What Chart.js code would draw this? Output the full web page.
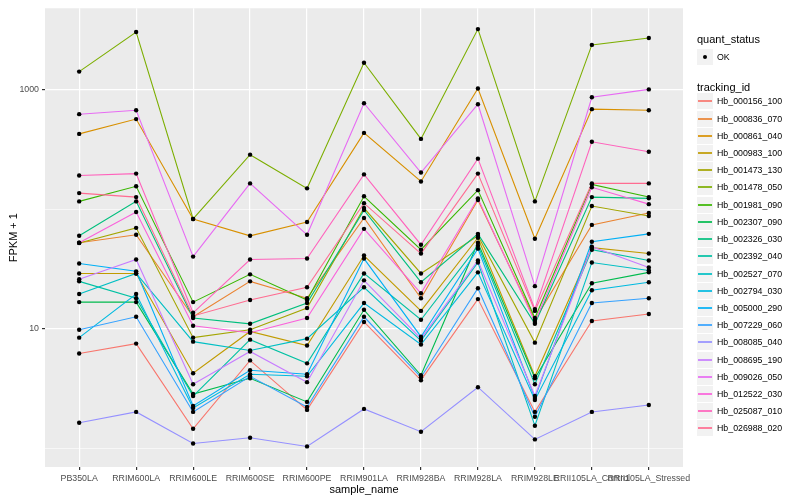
<!DOCTYPE html>
<html><head><meta charset="utf-8">
<script src="https://cdn.jsdelivr.net/npm/chart.js@4/dist/chart.umd.min.js"></script>
<style>
html,body{margin:0;padding:0;background:#fff;}
#wrap{position:relative;width:800px;height:500px;overflow:hidden;}
canvas{position:absolute;left:0;top:0;}
.lg{position:absolute;font-family:"Liberation Sans",Arial,sans-serif;color:#000;white-space:nowrap;}
</style></head><body>
<div id="wrap"><canvas id="c" width="800" height="500" style="width:800px;height:500px"></canvas><div id="legend"></div></div>
<script>
const categories = ["PB350LA","RRIM600LA","RRIM600LE","RRIM600SE","RRIM600PE","RRIM901LA","RRIM928BA","RRIM928LA","RRIM928LE","RRII105LA_Control","RRII105LA_Stressed"];
const trackingIds = ["Hb_000156_100","Hb_000836_070","Hb_000861_040","Hb_000983_100","Hb_001473_130","Hb_001478_050","Hb_001981_090","Hb_002307_090","Hb_002326_030","Hb_002392_040","Hb_002527_070","Hb_002794_030","Hb_005000_290","Hb_007229_060","Hb_008085_040","Hb_008695_190","Hb_009026_050","Hb_012522_030","Hb_025087_010","Hb_026988_020"];
const seriesColors = ["#F8766D","#EA8331","#D89000","#C09B00","#A3A500","#7CAE00","#39B600","#00BB4E","#00BF7D","#00C1A3","#00BFC4","#00BAE0","#00B0F6","#35A2FF","#9590FF","#C77CFF","#E76BF3","#FA62DB","#FF62BC","#FF6C91"];
const yTickLabels = [10, 1000];
const quantStatus = ["OK"];

const Hb_000156_100 = [6.21, 7.52, 1.46, 5.44, 2.10, 11.4, 3.72, 17.7, 2.02, 11.6, 13.3];
const Hb_000836_070 = [52.4, 61.0, 12.6, 24.9, 18.0, 84.3, 18.0, 119, 11.9, 73.8, 92.7];
const Hb_000861_040 = [425, 565, 82.7, 59.8, 78.1, 433, 170, 1019, 56.5, 684, 670];
const Hb_000983_100 = [29.0, 29.0, 4.25, 9.50, 7.24, 40.9, 14.1, 57.6, 4.01, 47.6, 42.5];
const Hb_001473_130 = [52.0, 69.7, 8.43, 9.82, 14.9, 102, 29.0, 59.8, 7.66, 106, 87.5];
const Hb_001478_050 = [1409, 3014, 82.7, 285, 149, 1671, 386, 3192, 116, 2355, 2690];
const Hb_001981_090 = [116, 155, 16.7, 28.5, 17.4, 128, 45.8, 144, 12.3, 161, 126];
const Hb_002307_090 = [16.7, 16.7, 2.85, 3.86, 2.45, 14.4, 4.09, 52.4, 3.86, 24.0, 29.6];
const Hb_002326_030 = [59.8, 116, 12.3, 11.0, 16.4, 98.1, 24.5, 62.1, 11.0, 126, 123];
const Hb_002392_040 = [24.9, 18.0, 2.74, 8.11, 5.14, 29.0, 11.9, 49.5, 3.44, 45.8, 37.2];
const Hb_002527_070 = [19.5, 29.0, 7.81, 6.58, 8.27, 22.2, 7.96, 35.8, 1.55, 35.8, 30.7];
const Hb_002794_030 = [8.43, 19.5, 2.18, 4.17, 4.01, 16.4, 7.38, 29.6, 2.54, 21.0, 24.5];
const Hb_005000_290 = [35.1, 30.2, 2.27, 4.50, 4.17, 38.6, 8.59, 46.7, 2.64, 53.4, 62.1];
const Hb_007229_060 = [9.82, 12.6, 2.02, 4.01, 2.22, 12.6, 3.94, 21.8, 1.84, 16.4, 18.0];
const Hb_008085_040 = [1.64, 2.02, 1.10, 1.23, 1.04, 2.14, 1.38, 3.25, 1.19, 2.02, 2.31];
const Hb_008695_190 = [25.9, 37.9, 3.44, 6.46, 3.58, 25.4, 8.27, 37.2, 2.74, 48.5, 32.5];
const Hb_009026_050 = [621, 670, 40.1, 164, 61.0, 766, 202, 752, 22.7, 859, 1000];
const Hb_012522_030 = [52.4, 94.5, 10.6, 9.27, 12.3, 68.4, 19.8, 123, 11.4, 152, 110];
const Hb_025087_010 = [191, 198, 13.6, 37.9, 38.6, 195, 50.4, 264, 14.6, 365, 301];
const Hb_026988_020 = [136, 126, 12.8, 17.4, 22.2, 112, 42.5, 198, 14.1, 164, 164];

const seriesValues = [Hb_000156_100, Hb_000836_070, Hb_000861_040, Hb_000983_100, Hb_001473_130, Hb_001478_050, Hb_001981_090, Hb_002307_090, Hb_002326_030, Hb_002392_040, Hb_002527_070, Hb_002794_030, Hb_005000_290, Hb_007229_060, Hb_008085_040, Hb_008695_190, Hb_009026_050, Hb_012522_030, Hb_025087_010, Hb_026988_020];

const FONT = '"Liberation Sans", Arial, sans-serif';
const toXY = arr => arr.map((v, i) => ({x: i, y: v}));

const datasets = [];
seriesValues.forEach((vals, k) => {
  datasets.push({
    label: trackingIds[k], data: toXY(vals), borderColor: seriesColors[k],
    borderWidth: 1.1, pointRadius: 0, fill: false, tension: 0, order: 1 + (seriesValues.length - k)
  });
});
seriesValues.forEach((vals, k) => {
  datasets.push({
    label: trackingIds[k] + ' pts', data: toXY(vals), showLine: false,
    pointRadius: 2.2, pointBackgroundColor: '#000', pointBorderWidth: 0, borderColor: '#000', order: 0
  });
});

const panelBg = {
  id: 'panelBg',
  beforeDraw(chart) {
    const {ctx, chartArea: a} = chart;
    ctx.save(); ctx.fillStyle = '#EBEBEB';
    ctx.fillRect(a.left, a.top, a.right - a.left, a.bottom - a.top);
    ctx.restore();
  }
};

const isMajorY = v => yTickLabels.includes(v);

new Chart(document.getElementById('c'), {
  type: 'line',
  data: {datasets},
  plugins: [panelBg],
  options: {
    responsive: false, animation: false, devicePixelRatio: 1,
    layout: {padding: {left: 0, right: 117, top: 5, bottom: 0}},
    plugins: {legend: {display: false}, tooltip: {enabled: false}},
    scales: {
      x: {
        type: 'linear', min: -0.6, max: 10.6,
        afterBuildTicks: s => { s.ticks = categories.map((c, i) => ({value: i})); },
        afterFit: s => { s.height = 33; },
        ticks: {callback: v => categories[v] ?? '', autoSkip: false, maxRotation: 0, minRotation: 0,
                color: '#4d4d4d', font: {size: 8.8, family: FONT}, padding: 3},
        grid: {color: '#fff', lineWidth: 1.2, tickColor: '#333', tickLength: 3, drawTicks: true},
        border: {display: false},
        title: {display: true, text: 'sample_name', color: '#000', font: {size: 11, family: FONT}, padding: {top: 0, bottom: 3}}
      },
      y: {
        type: 'logarithmic', min: 0.7236, max: 4763,
        afterBuildTicks: s => { s.ticks = [1, 10, 100, 1000].map(v => ({value: v})); },
        afterFit: s => { s.width = 45; },
        ticks: {callback: v => isMajorY(v) ? String(v) : '', color: '#4d4d4d', font: {size: 8.8, family: FONT}, padding: 3},
        grid: {
          color: '#fff',
          lineWidth: ctx => (ctx.tick && isMajorY(ctx.tick.value)) ? 1.2 : 0.6,
          tickColor: ctx => (ctx.tick && isMajorY(ctx.tick.value)) ? '#333' : 'rgba(0,0,0,0)',
          tickLength: 3, drawTicks: true
        },
        border: {display: false},
        title: {display: true, text: 'FPKM + 1', color: '#000', font: {size: 11, family: FONT}, padding: {top: 7, bottom: 0}}
      }
    }
  }
});

// legend (HTML)
const lg = document.getElementById('legend');
function el(style, text) {
  const d = document.createElement('div');
  d.className = 'lg'; d.style.cssText = style; if (text !== undefined) d.textContent = text;
  lg.appendChild(d); return d;
}
el('left:697px;top:33px;font-size:11px;line-height:13px;', 'quant_status');
quantStatus.forEach((q, i) => {
  const top = 49 + i * 17;
  el(`left:697px;top:${top}px;width:16px;height:16px;background:#F2F2F2;`);
  el(`left:703px;top:${top + 6}px;width:4px;height:4px;border-radius:50%;background:#000;`);
  el(`left:717px;top:${top}px;height:16px;line-height:16px;font-size:8.8px;`, q);
});
el('left:697px;top:81px;font-size:11px;line-height:13px;', 'tracking_id');
trackingIds.forEach((t, i) => {
  const top = Math.round(93.3 + i * 17.22);
  el(`left:697px;top:${top}px;width:16px;height:16px;background:#F2F2F2;`);
  el(`left:698px;top:${top + 7}px;width:14px;height:2px;background:${seriesColors[i]};opacity:0.85;`);
  el(`left:717px;top:${top}px;height:16px;line-height:16px;font-size:8.8px;`, t);
});
</script>
</body></html>
